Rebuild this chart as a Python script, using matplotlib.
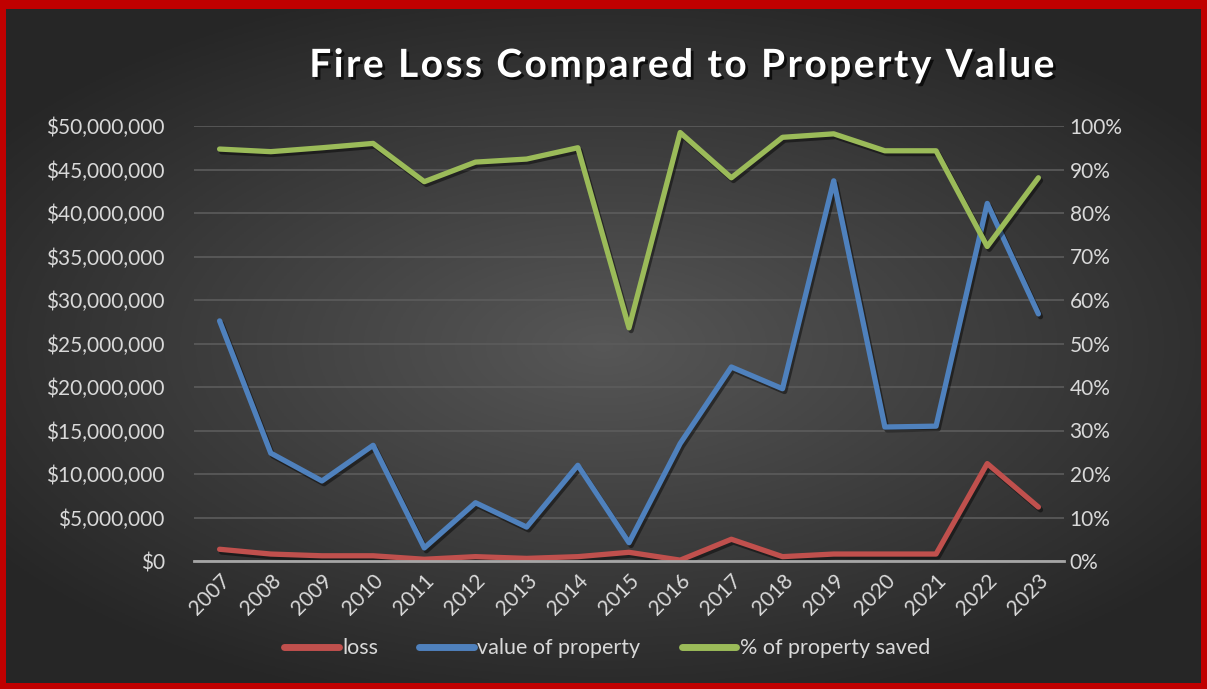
import numpy as np
import matplotlib.pyplot as plt
import matplotlib.patheffects as pe
from matplotlib.ticker import FuncFormatter

plt.rcParams['font.family'] = ['Lato', 'DejaVu Sans']

# ---------------------------
# data
# ---------------------------
years = [str(y) for y in range(2007, 2024)]
loss = [1.35e6, 0.8e6, 0.6e6, 0.6e6, 0.2e6, 0.5e6, 0.3e6, 0.5e6, 1.0e6,
        0.1e6, 2.5e6, 0.5e6, 0.8e6, 0.8e6, 0.8e6, 11.2e6, 6.2e6]
value = [27.6e6, 12.4e6, 9.2e6, 13.3e6, 1.5e6, 6.7e6, 3.9e6, 11.0e6, 2.1e6,
         13.5e6, 22.3e6, 19.8e6, 43.7e6, 15.4e6, 15.5e6, 41.1e6, 28.4e6]
saved = [0.947, 0.941, 0.950, 0.960, 0.872, 0.917, 0.924, 0.950, 0.536,
         0.985, 0.881, 0.974, 0.982, 0.943, 0.943, 0.723, 0.881]
title = "Fire Loss Compared to Property Value"

W, H = 1207, 689
fig = plt.figure(figsize=(W / 100, H / 100), dpi=100)
fig.patch.set_facecolor("#c00000")

# dark radial-gradient panel inside the red frame
bg = fig.add_axes([6 / W, 6 / H, 1195 / W, 674 / H])
gx, gy = np.meshgrid(np.linspace(-1, 1, 400), np.linspace(-1, 1, 230))
r = np.sqrt((gx * 0.9) ** 2 + (gy * 1.0) ** 2)
shade = np.clip(0.34 - 0.17 * r, 0.15, 0.34)
bg.imshow(np.dstack([shade] * 3), aspect="auto", extent=[0, 1, 0, 1])
bg.set_axis_off()

# main plot area
ax = fig.add_axes([194 / W, (H - 561) / H, 870 / W, 435 / H])
ax.set_facecolor("none")
ax2 = ax.twinx()

x = np.arange(len(years))
shadow = [pe.SimpleLineShadow(offset=(1.5, -2), shadow_color="black", alpha=0.45), pe.Normal()]
l1, = ax.plot(x, loss, color="#c0504d", lw=3.8, solid_capstyle="round",
              solid_joinstyle="round", path_effects=shadow, label="loss")
l2, = ax.plot(x, value, color="#4f81bd", lw=3.8, solid_capstyle="round",
              solid_joinstyle="round", path_effects=shadow, label="value of property")
l3, = ax2.plot(x, saved, color="#9bbb59", lw=3.8, solid_capstyle="round",
               solid_joinstyle="round", path_effects=shadow, label="% of property saved")

ax.set_xlim(-0.5, len(years) - 0.5)
ax.set_ylim(0, 50e6)
ax2.set_ylim(0, 1.0)
ax.set_yticks(np.arange(0, 50e6 + 1, 5e6))
ax2.set_yticks(np.arange(0, 1.01, 0.1))
ax.yaxis.set_major_formatter(FuncFormatter(lambda v, p: f"${v:,.0f}"))
ax2.yaxis.set_major_formatter(FuncFormatter(lambda v, p: f"{v:.0%}"))

ax.set_xticks(x)
ax.set_xticklabels(years, rotation=45, ha="right", va="top", rotation_mode="anchor")

ax.grid(axis="y", color="#5c5c5c", lw=1.2)
ax.set_axisbelow(True)
for a in (ax, ax2):
    for s in a.spines.values():
        s.set_visible(False)
    a.tick_params(length=0, colors="#d9d9d9", labelsize=15)
ax.spines["bottom"].set_visible(True)
ax.spines["bottom"].set_color("#a6a6a6")
ax.spines["bottom"].set_linewidth(2)
ax.tick_params(axis="y", pad=21)
ax.tick_params(axis="x", pad=7)
ax2.tick_params(axis="y", pad=4)

# letter-spaced title (hair spaces between characters)
spaced = "\u200a".join(title)
fig.text(0.564, 0.905, spaced, color="white",
         fontsize=28, fontweight="bold", ha="center", va="center",
         path_effects=[pe.SimplePatchShadow(offset=(2, -2), shadow_rgbFace="black", alpha=0.7), pe.Normal()])

leg = fig.legend(handles=[l1, l2, l3], loc="center", bbox_to_anchor=(0.503, 0.059), ncol=3,
                 frameon=False, fontsize=15.5, labelcolor="#d9d9d9", handlelength=2.55,
                 handletextpad=0.15, columnspacing=1.9)
for h in leg.get_lines():
    h.set_path_effects([pe.Normal()])
    h.set_linewidth(5)

fig.savefig("out.png", dpi=100, facecolor=fig.get_facecolor())
